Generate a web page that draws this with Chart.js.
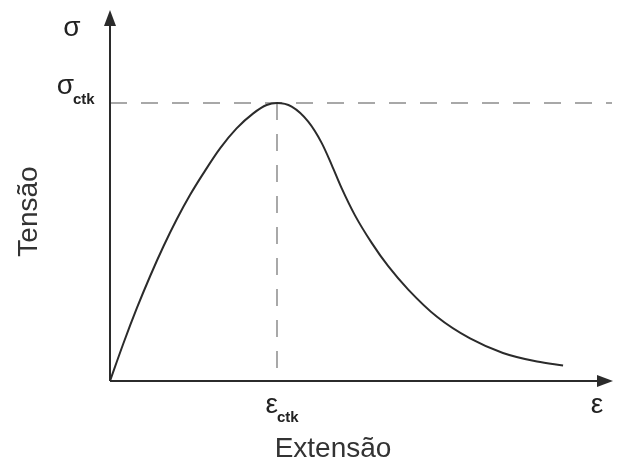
<!DOCTYPE html>
<html>
<head>
<meta charset="utf-8">
<script src="https://cdn.jsdelivr.net/npm/chart.js@4/dist/chart.umd.min.js"></script>
<style>
  html, body { margin: 0; padding: 0; background: #fff; }
  #wrap { width: 619px; height: 466px; }
</style>
</head>
<body>
<div id="wrap"><canvas id="c"></canvas></div>
<script>
// Stress–strain curve of concrete in tension (normalised: peak at ε_ctk = 1, σ_ctk = 1)
const strain = [0, 0.080, 0.160, 0.240, 0.319, 0.399, 0.479, 0.559, 0.659, 0.758, 0.858, 0.938, 1.000,
                1.088, 1.187, 1.268, 1.328, 1.387, 1.467, 1.567, 1.666, 1.786, 1.958,
                2.156, 2.353, 2.557, 2.713];
const stress = [0, 0.135, 0.261, 0.377, 0.483, 0.581, 0.669, 0.747, 0.837, 0.909, 0.963, 0.993, 1.000,
                0.987, 0.933, 0.856, 0.777, 0.694, 0.596, 0.497, 0.413, 0.329, 0.231,
                0.153, 0.101, 0.070, 0.056];

// Axis symbols and their subscripts
const yAxisSymbol = 'σ';
const xAxisSymbol = 'ε';
const peakStressLabel = ['σ', 'ctk'];
const peakStrainLabel = ['ε', 'ctk'];
const yAxisTitle = 'Tensão';
const xAxisTitle = 'Extensão';

const xMax = 3.006;
const yMax = 1.335;

const points = strain.map((x, i) => ({ x: x, y: stress[i] }));

let peakIdx = 0;
stress.forEach((v, i) => { if (v > stress[peakIdx]) peakIdx = i; });

const FONT = '"Liberation Sans", Arial, sans-serif';
const INK = '#2b2b2b';

const diagram = {
  id: 'diagram',
  beforeDatasetsDraw(chart) {
    const { ctx, chartArea: a, scales: { x, y } } = chart;
    const px = x.getPixelForValue(strain[peakIdx]);
    const py = y.getPixelForValue(stress[peakIdx]);
    const ox = x.getPixelForValue(0);
    const oy = y.getPixelForValue(0);
    ctx.save();
    // dashed guides through the peak
    ctx.strokeStyle = '#8c8c8c';
    ctx.lineWidth = 1.5;
    ctx.setLineDash([17, 14]);
    ctx.beginPath();
    ctx.moveTo(ox, py); ctx.lineTo(a.right, py);
    ctx.moveTo(px, py); ctx.lineTo(px, oy);
    ctx.stroke();
    ctx.setLineDash([]);

    // axes
    ctx.strokeStyle = INK;
    ctx.fillStyle = INK;
    ctx.lineWidth = 2;
    ctx.beginPath();
    ctx.moveTo(ox, oy); ctx.lineTo(ox, a.top + 12);
    ctx.moveTo(ox, oy); ctx.lineTo(a.right - 12, oy);
    ctx.stroke();
    // arrow heads
    ctx.beginPath();
    ctx.moveTo(ox, a.top);
    ctx.lineTo(ox - 6, a.top + 16);
    ctx.lineTo(ox + 6, a.top + 16);
    ctx.closePath();
    ctx.fill();
    ctx.beginPath();
    ctx.moveTo(a.right + 1, oy);
    ctx.lineTo(a.right - 15, oy - 6);
    ctx.lineTo(a.right - 15, oy + 6);
    ctx.closePath();
    ctx.fill();

    // symbols
    ctx.fillStyle = '#222';
    ctx.textBaseline = 'alphabetic';
    ctx.font = '28px ' + FONT;
    ctx.textAlign = 'center';
    ctx.fillText(yAxisSymbol, ox - 38, a.top + 26);
    ctx.fillText(xAxisSymbol, a.right - 15, oy + 32);

    // σ_ctk
    ctx.textAlign = 'right';
    ctx.fillText(peakStressLabel[0], ox - 36, py - 9);
    ctx.font = 'bold 15px ' + FONT;
    ctx.textAlign = 'left';
    ctx.fillText(peakStressLabel[1], ox - 37, py + 1);

    // ε_ctk
    ctx.font = '28px ' + FONT;
    ctx.textAlign = 'right';
    ctx.fillText(peakStrainLabel[0], px + 1, oy + 32);
    ctx.font = 'bold 15px ' + FONT;
    ctx.textAlign = 'left';
    ctx.fillText(peakStrainLabel[1], px, oy + 41);

    // axis titles
    ctx.font = '28px ' + FONT;
    ctx.textAlign = 'center';
    ctx.fillStyle = '#333';
    ctx.fillText(xAxisTitle, px + 56, oy + 76);
    ctx.translate(37, (a.top + oy) / 2 + 16);
    ctx.rotate(-Math.PI / 2);
    ctx.fillText(yAxisTitle, 0, 0);
    ctx.restore();
  }
};

new Chart(document.getElementById('c'), {
  type: 'line',
  data: {
    datasets: [{
      data: points,
      borderColor: INK,
      borderWidth: 2,
      pointRadius: 0,
      cubicInterpolationMode: 'monotone',
      fill: false
    }]
  },
  options: {
    responsive: true,
    maintainAspectRatio: false,
    animation: false,
    events: [],
    layout: { padding: { left: 110, right: 7, top: 10, bottom: 85 } },
    plugins: { legend: { display: false }, tooltip: { enabled: false } },
    scales: {
      x: { type: 'linear', min: 0, max: xMax, display: false },
      y: { type: 'linear', min: 0, max: yMax, display: false }
    }
  },
  plugins: [diagram]
});
</script>
</body>
</html>
